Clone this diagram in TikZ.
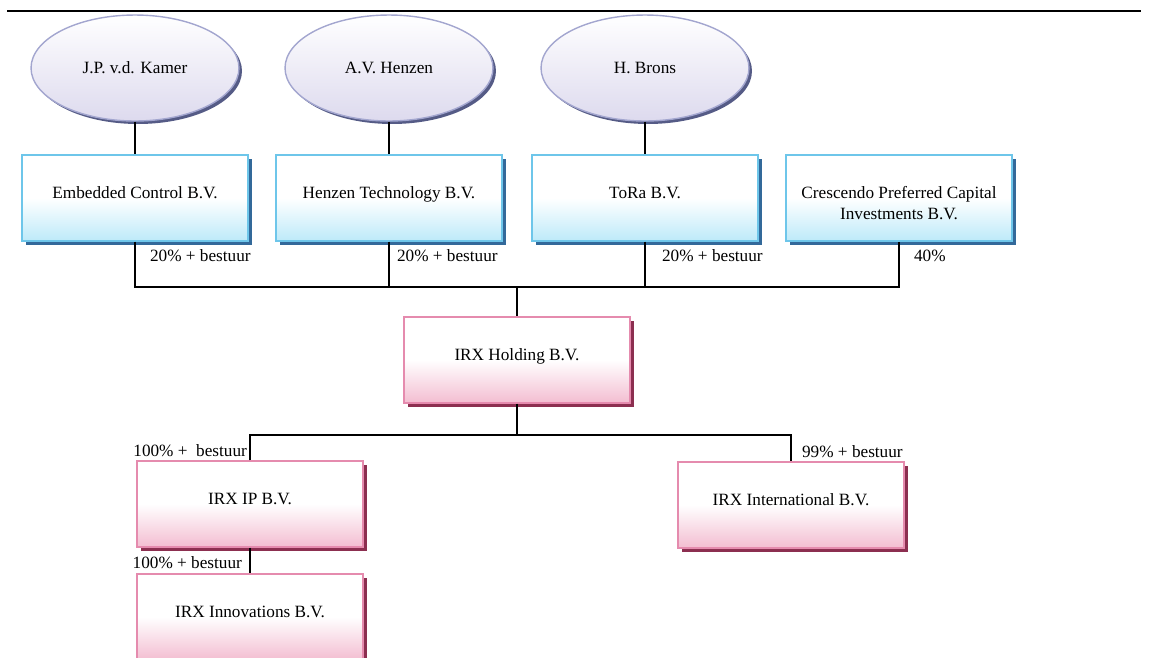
\documentclass[tikz,border=0pt]{standalone}
\usepackage{fontspec}
\setmainfont{Liberation Serif}
\usetikzlibrary{shapes.geometric,shadows}
\definecolor{lavrim}{HTML}{A3A6CF}
\definecolor{lavfill}{HTML}{DDDAEE}
\definecolor{lavshade}{HTML}{555B86}
\definecolor{bluerim}{HTML}{6EC6EA}
\definecolor{bluefill}{HTML}{BDEAF9}
\definecolor{blueshade}{HTML}{33699A}
\definecolor{pinkrim}{HTML}{E58BAE}
\definecolor{pinkfill}{HTML}{F3BDD1}
\definecolor{pinkshade}{HTML}{8C2F50}

\begin{document}
\begin{tikzpicture}[x=0.02cm, y=-0.02cm, font=\fontsize{9.8}{12}\selectfont,
	person/.style={ellipse, draw=lavrim, line width=0.8pt, minimum width=4.16cm, minimum height=2.12cm,
		top color=white, bottom color=lavfill,
		drop shadow={shadow xshift=0.06cm, shadow yshift=-0.06cm, fill=lavshade, opacity=1}},
	firm/.style={draw=bluerim, line width=0.8pt, minimum width=4.52cm, minimum height=1.72cm,
		text height=7pt, text depth=6pt,
		top color=white, bottom color=bluefill, middle color=white,
		drop shadow={shadow xshift=0.08cm, shadow yshift=-0.07cm, fill=blueshade, opacity=1}},
	irx/.style={draw=pinkrim, line width=0.8pt, minimum width=4.52cm, minimum height=1.72cm,
		text height=7pt, text depth=6pt,
		top color=white, bottom color=pinkfill, middle color=white,
		drop shadow={shadow xshift=0.08cm, shadow yshift=-0.07cm, fill=pinkshade, opacity=1}},
	share/.style={inner sep=1pt},
	link/.style={line width=0.9pt}]
	\useasboundingbox (0,0) rectangle (1152,657);
	\draw[line width=0.6pt] (7,11) -- (1141,11);

	% owners
	\node[person] (kamer) at (135,68) {J.P. v.d. Kamer};
	\node[person] (henzen) at (389,68) {A.V. Henzen};
	\node[person] (brons) at (645,68) {H. Brons};

	% shareholders
	\node[firm] (embedded) at (135,198) {Embedded Control B.V.};
	\node[firm] (hentech) at (389,198) {Henzen Technology B.V.};
	\node[firm] (tora) at (645,198) {ToRa B.V.};
	\node[firm, label={[align=center, yshift=-0.1cm]center:Crescendo Preferred Capital\\Investments B.V.}]
		(crescendo) at (899,198) {};

	% group
	\node[irx] (holding) at (517,360) {IRX Holding B.V.};
	\node[irx] (ip) at (250,504) {IRX IP B.V.};
	\node[irx] (intl) at (791,505) {IRX International B.V.};
	\node[irx] (innov) at (250,617) {IRX Innovations B.V.};

	\coordinate (topbar) at (517,287);
	\coordinate (midbar) at (517,435);

	\draw[link] (kamer) -- (embedded);
	\draw[link] (henzen) -- (hentech);
	\draw[link] (brons) -- (tora);
	\draw[link] (embedded.south) -- (embedded.south |- topbar) -| (crescendo.south);
	\draw[link] (hentech.south) -- (hentech.south |- topbar);
	\draw[link] (tora.south) -- (tora.south |- topbar);
	\draw[link] (topbar) -- (holding.north);
	\draw[link] (holding.south) -- (midbar);
	\draw[link] (ip.north) |- (midbar) -| (intl.north);
	\draw[link] (ip.south) -- (innov.north);

	% percentages
	\node[share, anchor=west] (s1) at (148,256) {20\% + bestuur};
	\node[share, anchor=west] (s2) at (395,256) {20\% + bestuur};
	\node[share, anchor=west] (s3) at (660,256) {20\% + bestuur};
	\node[share, anchor=west] (s4) at (912,256) {40\%};
	\node[share, anchor=east] (s5) at (249,451) {100\% +\ \ bestuur};
	\node[share, anchor=east] (s6) at (244,563) {100\% + bestuur};
	\node[share, anchor=west] (s7) at (800,452) {99\% + bestuur};
\end{tikzpicture}
\end{document}
